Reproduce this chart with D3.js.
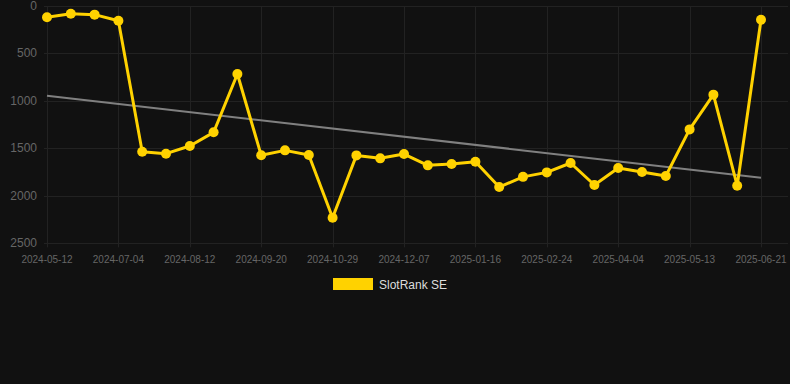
<!DOCTYPE html>
<html lang="en">
<head>
    <meta charset="UTF-8">
    <title>SlotRank SE</title>
    <script src="https://d3js.org/d3.v7.min.js"></script>
    <style>
        body {
            margin: 0;
            background: #111111;
            font-family: "Liberation Sans", Arial, sans-serif;
        }
        .grid line {
            stroke: #222;
            stroke-width: 1px;
        }
        .axis text {
            fill: #666;
        }
    </style>
</head>
<body>

<svg width="790" height="384"></svg>

<script>
    // categories (one every point, label shown on every third)
    const dates = [
        "2024-05-12", "2024-05-30", "2024-06-17", "2024-07-04", "2024-07-17", "2024-07-30",
        "2024-08-12", "2024-08-25", "2024-09-07", "2024-09-20", "2024-10-03", "2024-10-16",
        "2024-10-29", "2024-11-11", "2024-11-24", "2024-12-07", "2024-12-20", "2025-01-03",
        "2025-01-16", "2025-01-29", "2025-02-11", "2025-02-24", "2025-03-09", "2025-03-22",
        "2025-04-04", "2025-04-17", "2025-04-30", "2025-05-13", "2025-05-26", "2025-06-08",
        "2025-06-21"
    ];
    // rank values
    const ranks = [
        119, 81, 91, 155, 1535, 1556, 1475, 1331, 716, 1573, 1521,
        1570, 2231, 1574, 1605, 1560, 1679, 1665, 1640, 1907, 1800,
        1753, 1654, 1886, 1707, 1749, 1791, 1300, 934, 1893, 144
    ];
    // trend line, value at first and last date
    const trend = [945, 1809];
    const yTicks = [0, 500, 1000, 1500, 2000, 2500];
    const seriesName = "SlotRank SE";

    const svg = d3.select("svg");
    const plotLeft = 47, plotRight = 761, plotTop = 6, plotBottom = 243.3;

    const x = d3.scalePoint().domain(dates).range([plotLeft, plotRight]);
    const y = d3.scaleLinear().domain([0, 2500]).range([plotTop, plotBottom]);

    // horizontal grid
    svg.append("g").attr("class", "grid")
        .selectAll("line").data(yTicks).enter().append("line")
        .attr("x1", 44).attr("x2", 788)
        .attr("y1", d => Math.round(y(d)) + 0.5).attr("y2", d => Math.round(y(d)) + 0.5);

    // vertical grid on labelled ticks
    const labelled = dates.filter((d, i) => i % 3 === 0);
    svg.append("g").attr("class", "grid")
        .selectAll("line").data(labelled).enter().append("line")
        .attr("x1", d => Math.round(x(d)) + 0.5).attr("x2", d => Math.round(x(d)) + 0.5)
        .attr("y1", plotTop).attr("y2", plotBottom + 4);

    // y labels
    svg.append("g").attr("class", "axis")
        .selectAll("text").data(yTicks).enter().append("text")
        .attr("x", 37).attr("y", d => y(d) + 4)
        .attr("text-anchor", "end")
        .style("font-size", "12px")
        .text(d => d);

    // x labels
    svg.append("g").attr("class", "axis")
        .selectAll("text").data(labelled).enter().append("text")
        .attr("x", d => x(d)).attr("y", 263)
        .attr("text-anchor", "middle")
        .style("font-size", "10px")
        .text(d => d);

    // trend line
    svg.append("line")
        .attr("x1", x(dates[0])).attr("y1", y(trend[0]))
        .attr("x2", x(dates[dates.length - 1])).attr("y2", y(trend[1]))
        .attr("stroke", "#808080").attr("stroke-width", 2);

    // series line
    const line = d3.line().x((d, i) => x(dates[i])).y(d => y(d));
    svg.append("path")
        .datum(ranks)
        .attr("d", line)
        .attr("fill", "none")
        .attr("stroke", "#ffd200")
        .attr("stroke-width", 3)
        .attr("stroke-linejoin", "round");

    svg.selectAll(".pt").data(ranks).enter().append("circle")
        .attr("class", "pt")
        .attr("cx", (d, i) => x(dates[i]))
        .attr("cy", d => y(d))
        .attr("r", 5)
        .attr("fill", "#ffd200");

    // legend
    svg.append("rect")
        .attr("x", 333).attr("y", 278).attr("width", 40).attr("height", 12)
        .attr("fill", "#ffd200");
    svg.append("text")
        .attr("x", 379).attr("y", 289)
        .attr("fill", "#ddd")
        .style("font-size", "12px")
        .text(seriesName);
</script>

</body>
</html>
